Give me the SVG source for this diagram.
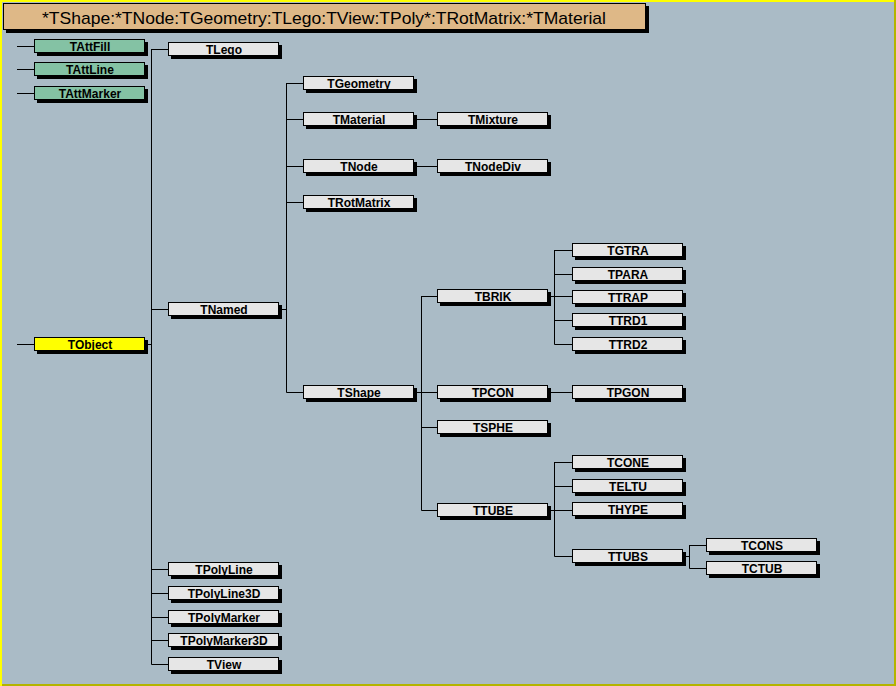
<svg xmlns="http://www.w3.org/2000/svg" width="896" height="686" viewBox="0 0 896 686">
<defs>
<style>
.sh{fill:#000}
.bx{stroke:#000;stroke-width:1;fill:#e6e6e6}
.gr{fill:#84c2a4}
.ye{fill:#ffff00}
.lb{font-family:"Liberation Sans",Arial,sans-serif;font-weight:bold;font-size:12px;fill:#000;text-anchor:middle;dominant-baseline:central}
#connectors path{stroke:#000;stroke-width:1;fill:none}
</style>
</defs>
<rect x="0" y="0" width="896" height="686" fill="#aabbc6"/>
<rect x="0" y="684" width="896" height="2" fill="#b4b400"/>
<rect x="894" y="0" width="2" height="686" fill="#b4b400"/>
<rect x="0" y="0" width="894" height="2" fill="#ffff00"/>
<rect x="0" y="0" width="2" height="686" fill="#ffff00"/>
<g id="title">
<rect x="6" y="6" width="643" height="27" class="sh"/>
<rect x="3.5" y="3.5" width="642" height="26" fill="#deb887" stroke="#000"/>
<text x="324" y="18" font-family="'Liberation Sans',Arial,sans-serif" font-size="17" text-anchor="middle" dominant-baseline="central" textLength="564" lengthAdjust="spacingAndGlyphs">*TShape:*TNode:TGeometry:TLego:TView:TPoly*:TRotMatrix:*TMaterial</text>
</g>
<g id="connectors">
<path d="M17 46.5H34M17 69.5H34M17 93.5H34M17 344.5H34"/>
<path d="M145 344.5H151.5M151.5 49V664.5M151.5 49.5H168M151.5 309.5H168M151.5 569.5H168M151.5 593.5H168M151.5 617.5H168M151.5 640.5H168M151.5 664.5H168"/>
<path d="M279 309.5H286.5M286.5 83V392.5M286.5 83.5H303M286.5 119.5H303M286.5 166.5H303M286.5 202.5H303M286.5 392.5H303"/>
<path d="M414 119.5H437M414 166.5H437"/>
<path d="M414 392.5H437M421.5 296V510.5M421.5 296.5H437M421.5 427.5H437M421.5 510.5H437"/>
<path d="M548 296.5H572M554.5 250V344.5M554.5 250.5H572M554.5 274.5H572M554.5 320.5H572M554.5 344.5H572"/>
<path d="M548 392.5H572"/>
<path d="M548 510.5H572M554.5 462V556.5M554.5 462.5H572M554.5 486.5H572M554.5 556.5H572"/>
<path d="M683 556.5H689.5M689.5 545V568.5M689.5 545.5H706M689.5 568.5H706"/>
</g>
<g id="TAttFill"><rect x="37" y="42" width="111" height="14" class="sh"/><rect x="34.5" y="39.5" width="110" height="13" class="bx gr"/><text x="90" y="46.5" class="lb">TAttFill</text></g>
<g id="TAttLine"><rect x="37" y="65" width="111" height="14" class="sh"/><rect x="34.5" y="62.5" width="110" height="13" class="bx gr"/><text x="90" y="69.5" class="lb">TAttLine</text></g>
<g id="TAttMarker"><rect x="37" y="89" width="111" height="14" class="sh"/><rect x="34.5" y="86.5" width="110" height="13" class="bx gr"/><text x="90" y="93.5" class="lb">TAttMarker</text></g>
<g id="TObject"><rect x="37" y="340" width="111" height="14" class="sh"/><rect x="34.5" y="337.5" width="110" height="13" class="bx ye"/><text x="90" y="344.5" class="lb">TObject</text></g>
<g id="TLego"><rect x="171" y="45" width="111" height="14" class="sh"/><rect x="168.5" y="42.5" width="110" height="13" class="bx"/><text x="224" y="49.5" class="lb">TLego</text></g>
<g id="TNamed"><rect x="171" y="305" width="111" height="14" class="sh"/><rect x="168.5" y="302.5" width="110" height="13" class="bx"/><text x="224" y="309.5" class="lb">TNamed</text></g>
<g id="TPolyLine"><rect x="171" y="565" width="111" height="14" class="sh"/><rect x="168.5" y="562.5" width="110" height="13" class="bx"/><text x="224" y="569.5" class="lb">TPolyLine</text></g>
<g id="TPolyLine3D"><rect x="171" y="589" width="111" height="14" class="sh"/><rect x="168.5" y="586.5" width="110" height="13" class="bx"/><text x="224" y="593.5" class="lb">TPolyLine3D</text></g>
<g id="TPolyMarker"><rect x="171" y="613" width="111" height="14" class="sh"/><rect x="168.5" y="610.5" width="110" height="13" class="bx"/><text x="224" y="617.5" class="lb">TPolyMarker</text></g>
<g id="TPolyMarker3D"><rect x="171" y="636" width="111" height="14" class="sh"/><rect x="168.5" y="633.5" width="110" height="13" class="bx"/><text x="224" y="640.5" class="lb">TPolyMarker3D</text></g>
<g id="TView"><rect x="171" y="660" width="111" height="14" class="sh"/><rect x="168.5" y="657.5" width="110" height="13" class="bx"/><text x="224" y="664.5" class="lb">TView</text></g>
<g id="TGeometry"><rect x="306" y="79" width="111" height="14" class="sh"/><rect x="303.5" y="76.5" width="110" height="13" class="bx"/><text x="359" y="83.5" class="lb">TGeometry</text></g>
<g id="TMaterial"><rect x="306" y="115" width="111" height="14" class="sh"/><rect x="303.5" y="112.5" width="110" height="13" class="bx"/><text x="359" y="119.5" class="lb">TMaterial</text></g>
<g id="TNode"><rect x="306" y="162" width="111" height="14" class="sh"/><rect x="303.5" y="159.5" width="110" height="13" class="bx"/><text x="359" y="166.5" class="lb">TNode</text></g>
<g id="TRotMatrix"><rect x="306" y="198" width="111" height="14" class="sh"/><rect x="303.5" y="195.5" width="110" height="13" class="bx"/><text x="359" y="202.5" class="lb">TRotMatrix</text></g>
<g id="TShape"><rect x="306" y="388" width="111" height="14" class="sh"/><rect x="303.5" y="385.5" width="110" height="13" class="bx"/><text x="359" y="392.5" class="lb">TShape</text></g>
<g id="TMixture"><rect x="440" y="115" width="111" height="14" class="sh"/><rect x="437.5" y="112.5" width="110" height="13" class="bx"/><text x="493" y="119.5" class="lb">TMixture</text></g>
<g id="TNodeDiv"><rect x="440" y="162" width="111" height="14" class="sh"/><rect x="437.5" y="159.5" width="110" height="13" class="bx"/><text x="493" y="166.5" class="lb">TNodeDiv</text></g>
<g id="TBRIK"><rect x="440" y="292" width="111" height="14" class="sh"/><rect x="437.5" y="289.5" width="110" height="13" class="bx"/><text x="493" y="296.5" class="lb">TBRIK</text></g>
<g id="TPCON"><rect x="440" y="388" width="111" height="14" class="sh"/><rect x="437.5" y="385.5" width="110" height="13" class="bx"/><text x="493" y="392.5" class="lb">TPCON</text></g>
<g id="TSPHE"><rect x="440" y="423" width="111" height="14" class="sh"/><rect x="437.5" y="420.5" width="110" height="13" class="bx"/><text x="493" y="427.5" class="lb">TSPHE</text></g>
<g id="TTUBE"><rect x="440" y="506" width="111" height="14" class="sh"/><rect x="437.5" y="503.5" width="110" height="13" class="bx"/><text x="493" y="510.5" class="lb">TTUBE</text></g>
<g id="TGTRA"><rect x="575" y="246" width="111" height="14" class="sh"/><rect x="572.5" y="243.5" width="110" height="13" class="bx"/><text x="628" y="250.5" class="lb">TGTRA</text></g>
<g id="TPARA"><rect x="575" y="270" width="111" height="14" class="sh"/><rect x="572.5" y="267.5" width="110" height="13" class="bx"/><text x="628" y="274.5" class="lb">TPARA</text></g>
<g id="TTRAP"><rect x="575" y="293" width="111" height="14" class="sh"/><rect x="572.5" y="290.5" width="110" height="13" class="bx"/><text x="628" y="297.5" class="lb">TTRAP</text></g>
<g id="TTRD1"><rect x="575" y="316" width="111" height="14" class="sh"/><rect x="572.5" y="313.5" width="110" height="13" class="bx"/><text x="628" y="320.5" class="lb">TTRD1</text></g>
<g id="TTRD2"><rect x="575" y="340" width="111" height="14" class="sh"/><rect x="572.5" y="337.5" width="110" height="13" class="bx"/><text x="628" y="344.5" class="lb">TTRD2</text></g>
<g id="TPGON"><rect x="575" y="388" width="111" height="14" class="sh"/><rect x="572.5" y="385.5" width="110" height="13" class="bx"/><text x="628" y="392.5" class="lb">TPGON</text></g>
<g id="TCONE"><rect x="575" y="458" width="111" height="14" class="sh"/><rect x="572.5" y="455.5" width="110" height="13" class="bx"/><text x="628" y="462.5" class="lb">TCONE</text></g>
<g id="TELTU"><rect x="575" y="482" width="111" height="14" class="sh"/><rect x="572.5" y="479.5" width="110" height="13" class="bx"/><text x="628" y="486.5" class="lb">TELTU</text></g>
<g id="THYPE"><rect x="575" y="505" width="111" height="14" class="sh"/><rect x="572.5" y="502.5" width="110" height="13" class="bx"/><text x="628" y="509.5" class="lb">THYPE</text></g>
<g id="TTUBS"><rect x="575" y="552" width="111" height="14" class="sh"/><rect x="572.5" y="549.5" width="110" height="13" class="bx"/><text x="628" y="556.5" class="lb">TTUBS</text></g>
<g id="TCONS"><rect x="709" y="541" width="111" height="14" class="sh"/><rect x="706.5" y="538.5" width="110" height="13" class="bx"/><text x="762" y="545.5" class="lb">TCONS</text></g>
<g id="TCTUB"><rect x="709" y="564" width="111" height="14" class="sh"/><rect x="706.5" y="561.5" width="110" height="13" class="bx"/><text x="762" y="568.5" class="lb">TCTUB</text></g>
</svg>
